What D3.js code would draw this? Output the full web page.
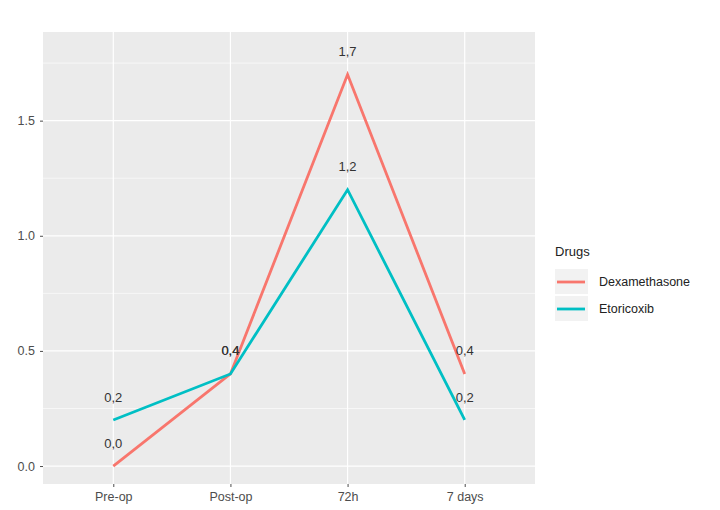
<!DOCTYPE html>
<html>
<head>
<meta charset="utf-8">
<script src="https://cdn.jsdelivr.net/npm/d3@7"></script>
<style>
  body { margin: 0; background: #fff; }
  svg text { font-family: "Liberation Sans", Arial, sans-serif; }
</style>
</head>
<body>
<svg id="chart" width="720" height="510"></svg>
<script>
const timepoints = ['Pre-op', 'Post-op', '72h', '7 days'];
const drugs = ['Dexamethasone', 'Etoricoxib'];
const dexamethasone = [0.0, 0.4, 1.7, 0.4];
const etoricoxib = [0.2, 0.4, 1.2, 0.2];
const drugColors = ['#F8766D', '#00BFC4'];
const yTicks = [0, 0.5, 1.0, 1.5];
const yMinor = [0.25, 0.75, 1.25, 1.75];
const labelNudge = 0.1;

const svg = d3.select('#chart');
const panel = { left: 43, top: 32, right: 535, bottom: 484 };

const x = d3.scalePoint()
  .domain(timepoints)
  .range([panel.left, panel.right])
  .padding(0.6);

const y = d3.scaleLinear()
  .domain([-0.078, 1.885])
  .range([panel.bottom, panel.top]);

// panel background
svg.append('rect')
  .attr('x', panel.left)
  .attr('y', panel.top)
  .attr('width', panel.right - panel.left)
  .attr('height', panel.bottom - panel.top)
  .attr('fill', '#EBEBEB');

const grid = svg.append('g');
grid.selectAll('.minor').data(yMinor).join('line')
  .attr('x1', panel.left).attr('x2', panel.right)
  .attr('y1', (d) => y(d)).attr('y2', (d) => y(d))
  .attr('stroke', '#fff').attr('stroke-width', 0.6);
grid.selectAll('.major').data(yTicks).join('line')
  .attr('x1', panel.left).attr('x2', panel.right)
  .attr('y1', (d) => y(d)).attr('y2', (d) => y(d))
  .attr('stroke', '#fff').attr('stroke-width', 1.2);
grid.selectAll('.vmajor').data(timepoints).join('line')
  .attr('x1', (d) => x(d)).attr('x2', (d) => x(d))
  .attr('y1', panel.top).attr('y2', panel.bottom)
  .attr('stroke', '#fff').attr('stroke-width', 1.2);

// axes
const yAxis = svg.append('g')
  .attr('transform', `translate(${panel.left},0)`)
  .call(d3.axisLeft(y).tickValues(yTicks).tickFormat(d3.format('.1f')).tickSize(3).tickPadding(5));
const xAxis = svg.append('g')
  .attr('transform', `translate(0,${panel.bottom})`)
  .call(d3.axisBottom(x).tickSize(3).tickPadding(5));
[yAxis, xAxis].forEach((ax) => {
  ax.select('.domain').remove();
  ax.selectAll('.tick line').attr('stroke', '#4d4d4d');
  ax.selectAll('.tick text').attr('fill', '#4d4d4d').attr('font-size', 12.5);
});

// lines
const series = [dexamethasone, etoricoxib];
const line = d3.line()
  .x((d, i) => x(timepoints[i]))
  .y((d) => y(d));

svg.append('g').selectAll('path').data(series).join('path')
  .attr('d', (d) => line(d))
  .attr('fill', 'none')
  .attr('stroke', (d, i) => drugColors[i])
  .attr('stroke-width', 2.8);

// value labels
const fmt = (v) => d3.format('.1f')(v).replace('.', ',');
series.forEach((vals) => {
  svg.append('g').selectAll('text').data(vals).join('text')
    .attr('x', (d, i) => x(timepoints[i]))
    .attr('y', (d) => y(d + labelNudge))
    .attr('dy', '0.35em')
    .attr('text-anchor', 'middle')
    .attr('font-size', 13)
    .attr('fill', '#333')
    .text((d) => fmt(d));
});

// legend
const legend = svg.append('g').attr('transform', 'translate(555,0)');
legend.append('text')
  .attr('x', 0).attr('y', 256)
  .attr('font-size', 13)
  .attr('fill', '#222')
  .text('Drugs');
const keys = legend.selectAll('.key').data(drugs).join('g')
  .attr('transform', (d, i) => `translate(0,${269 + i * 27})`);
keys.append('rect')
  .attr('width', 33).attr('height', 25)
  .attr('fill', '#F2F2F2');
keys.append('line')
  .attr('x1', 2).attr('x2', 30)
  .attr('y1', 13).attr('y2', 13)
  .attr('stroke', (d, i) => drugColors[i])
  .attr('stroke-width', 2.8);
keys.append('text')
  .attr('x', 44).attr('y', 13)
  .attr('dy', '0.35em')
  .attr('font-size', 12.5)
  .attr('fill', '#222')
  .text((d) => d);
</script>
</body>
</html>
